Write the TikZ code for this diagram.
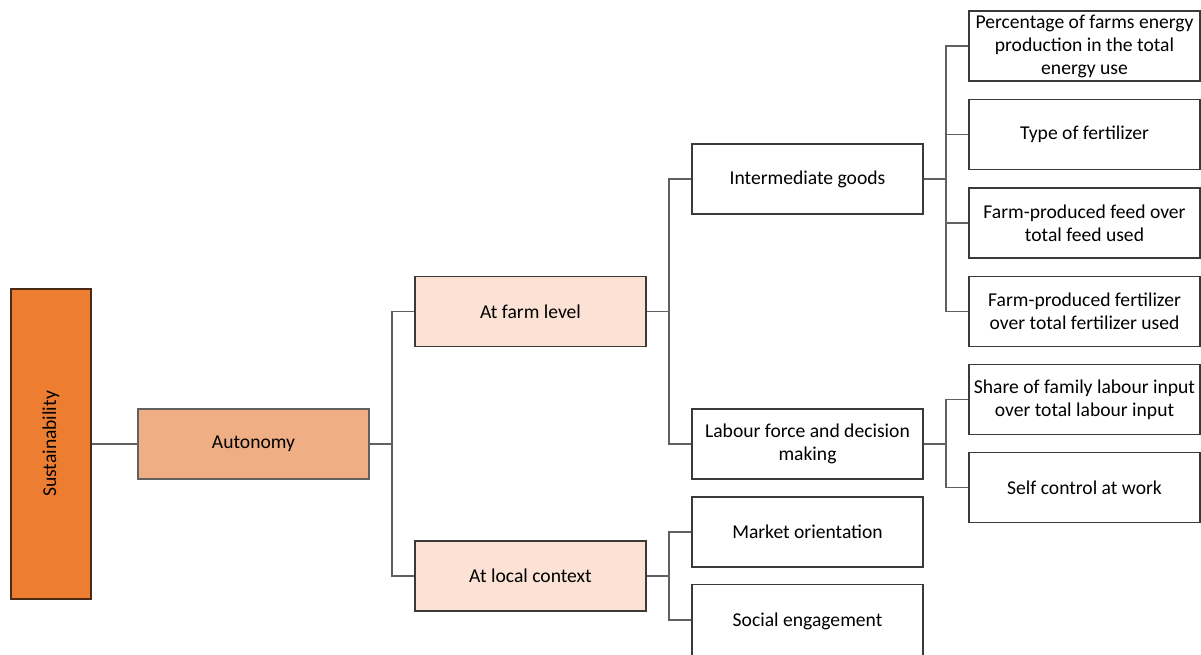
\documentclass[tikz,border=0pt]{standalone}
\usepackage{fontspec}
\setmainfont{Carlito}
\usepackage{tikz}
\usetikzlibrary{positioning}
\definecolor{sustfill}{HTML}{ED7D31}
\definecolor{sustdraw}{HTML}{4A2A14}
\definecolor{autfill}{HTML}{F0AE84}
\definecolor{levelfill}{HTML}{FBE2D5}
\definecolor{boxdraw}{HTML}{3A3A3A}
\definecolor{linkdraw}{HTML}{606060}

\begin{document}
\begin{tikzpicture}[x=0.75pt,y=-0.75pt,
						basebox/.style={rectangle, draw=boxdraw, line width=0.8pt, fill=white, inner sep=0pt, minimum width=173.25pt, minimum height=52.5pt, align=center, font=\fontsize{14.7}{17.25}\selectfont},
						sustbox/.style={basebox, fill=sustfill, draw=sustdraw, minimum width=60pt, minimum height=232.5pt},
						autbox/.style={basebox, fill=autfill, draw=boxdraw!80},
						levelbox/.style={basebox, fill=levelfill},
						leafbox/.style={basebox},
						link/.style={draw=linkdraw, line width=0.8pt},
						]
						\useasboundingbox (0,0) rectangle (1201,655);
						%Nodes
						\node[sustbox]        (sust)   at (51,444)     {\rotatebox{90}{Sustainability}};
						\node[autbox]         (aut)    at (253.5,444)  {Autonomy};
						\node[levelbox]       (farm)   at (530.5,311.5){At farm level};
						\node[levelbox]       (local)  at (530.5,576)  {At local context};
						\node[leafbox]        (inter)  at (807.5,179)  {Intermediate goods};
						\node[leafbox]        (labour) at (807.5,444)  {Labour force and decision\\making};
						\node[leafbox]        (market) at (807.5,532)  {Market orientation};
						\node[leafbox, minimum height=56pt] (social) at (807.5,621.5) {\raisebox{1pt}{Social engagement}};
						\node[leafbox]        (energy) at (1084.5,46)  {Percentage of farms energy\\production in the total\\energy use};
						\node[leafbox]        (ftype)  at (1084.5,134.5){Type of fertilizer};
						\node[leafbox]        (feed)   at (1084.5,223) {Farm-produced feed over\\total feed used};
						\node[leafbox]        (fert)   at (1084.5,311.5){Farm-produced fertilizer\\over total fertilizer used};
						\node[leafbox]        (family) at (1084.5,399.5){Share of family labour input\\over total labour input};
						\node[leafbox]        (self)   at (1084.5,487.5){Self control at work};

						%Junctions
						\coordinate (j0) at (392,444);
						\coordinate (j1) at (669,311.5);
						\coordinate (j2) at (669,576);
						\coordinate (j3) at (946,179);
						\coordinate (j4) at (946,444);

						%Lines
						\draw[link] (sust.east) -- (aut.west);

						\draw[link] (aut.east) -- (j0);
						\draw[link] (j0) |- (farm.west);
						\draw[link] (j0) |- (local.west);

						\draw[link] (farm.east) -- (j1);
						\draw[link] (j1) |- (inter.west);
						\draw[link] (j1) |- (labour.west);

						\draw[link] (local.east) -- (j2);
						\draw[link] (j2) |- (market.west);
						\draw[link] (j2) |- (social.west |- 0,620);

						\draw[link] (inter.east) -- (j3);
						\draw[link] (j3) |- (energy.west);
						\draw[link] (j3) |- (ftype.west);
						\draw[link] (j3) |- (feed.west);
						\draw[link] (j3) |- (fert.west);

						\draw[link] (labour.east) -- (j4);
						\draw[link] (j4) |- (family.west);
						\draw[link] (j4) |- (self.west);
					\end{tikzpicture}
\end{document}
